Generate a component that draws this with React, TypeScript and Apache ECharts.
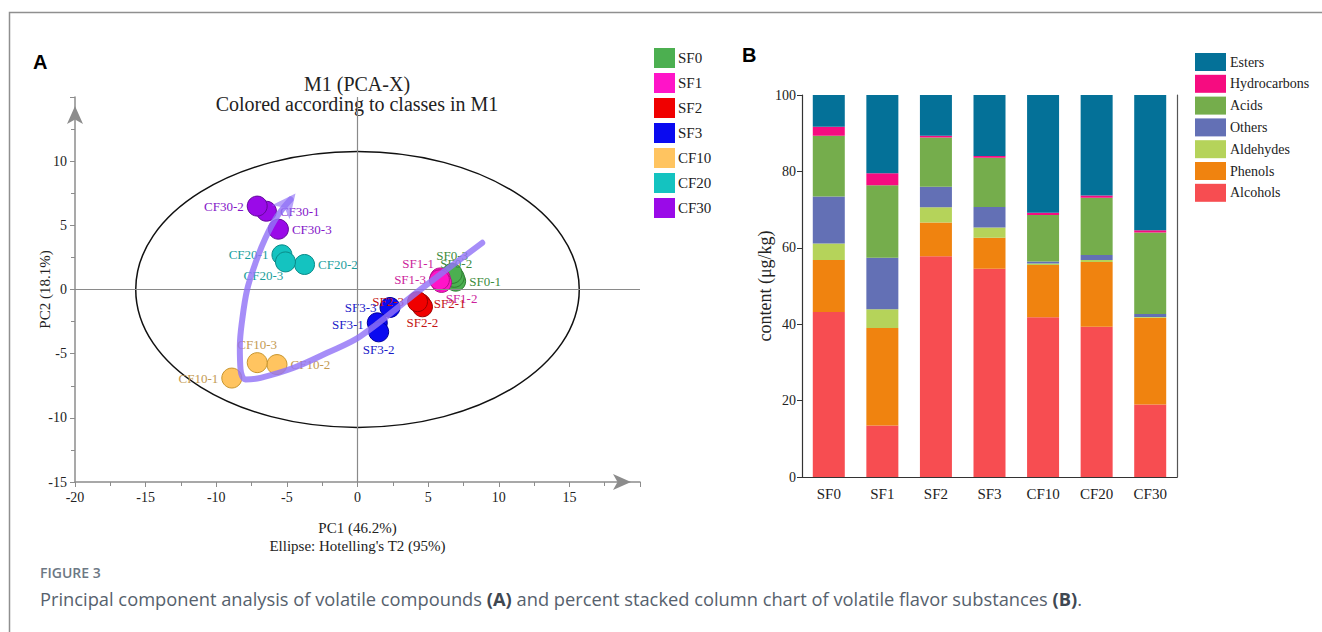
import React, { useEffect, useRef } from "react";
import * as echarts from "echarts";

// ---------- Panel A: PCA scores ----------
const groups = ["SF0", "SF1", "SF2", "SF3", "CF10", "CF20", "CF30"];
const groupColors = ["#4caf50", "#ff14c8", "#f00000", "#0a0af0", "#ffc460", "#14c3c0", "#9a0ae8"];
const groupBorders = ["#2f7d32", "#b0108a", "#9a0000", "#00009a", "#c8962e", "#0a8a88", "#62089a"];
const labelColors = ["#3d8b3d", "#cc1f9c", "#c41414", "#1a1ac8", "#c49a52", "#1a9e9c", "#8416c8"];

const sf0Names = ["SF0-1", "SF0-2", "SF0-3"];
const sf0Points = [[6.95, 0.65], [6.85, 0.95], [6.7, 1.25]];
const sf1Names = ["SF1-1", "SF1-2", "SF1-3"];
const sf1Points = [[5.85, 0.9], [5.95, 0.55], [5.8, 0.75]];
const sf2Names = ["SF2-1", "SF2-2", "SF2-3"];
const sf2Points = [[4.45, -1.1], [4.6, -1.35], [4.25, -0.95]];
const sf3Names = ["SF3-1", "SF3-2", "SF3-3"];
const sf3Points = [[1.4, -2.6], [1.5, -3.3], [2.3, -1.4]];
const cf10Names = ["CF10-1", "CF10-2", "CF10-3"];
const cf10Points = [[-8.9, -6.9], [-5.7, -5.85], [-7.1, -5.7]];
const cf20Names = ["CF20-1", "CF20-2", "CF20-3"];
const cf20Points = [[-5.35, 2.7], [-3.75, 1.95], [-5.1, 2.15]];
const cf30Names = ["CF30-1", "CF30-2", "CF30-3"];
const cf30Points = [[-6.45, 6.1], [-7.1, 6.5], [-5.6, 4.7]];

const groupNames = [sf0Names, sf1Names, sf2Names, sf3Names, cf10Names, cf20Names, cf30Names];
const groupPoints = [sf0Points, sf1Points, sf2Points, sf3Points, cf10Points, cf20Points, cf30Points];

// label placement: [position, offsetX, offsetY]
const labelPlacement: Record<string, [string, number, number]> = {
  "SF0-1": ["right", 0, 0], "SF0-2": ["top", 2, 6], "SF0-3": ["top", 0, 2],
  "SF1-1": ["top", -22, 6], "SF1-2": ["bottom", 20, -4], "SF1-3": ["left", 0, 0],
  "SF2-1": ["right", 0, 0], "SF2-2": ["bottom", 0, -4], "SF2-3": ["left", 0, 0],
  "SF3-1": ["left", 0, 2], "SF3-2": ["bottom", 0, -2], "SF3-3": ["left", 0, 0],
  "CF10-1": ["left", 0, 0], "CF10-2": ["right", 0, 0], "CF10-3": ["top", 0, 2],
  "CF20-1": ["left", 0, 0], "CF20-2": ["right", 0, 0], "CF20-3": ["bottom", -22, -6],
  "CF30-1": ["right", 0, 0], "CF30-2": ["left", 0, 0], "CF30-3": ["right", 0, 0],
};

// trend arrow (in PC1/PC2 units)
const trendPath = [
  [8.83, 3.64], [4.46, 0.0], [0.21, -3.64], [-2.14, -4.93], [-4.51, -6.1], [-6.86, -6.88],
  [-7.93, -7.01], [-8.28, -6.23], [-8.33, -4.42], [-8.16, -2.34], [-7.81, 0.0], [-7.22, 2.08],
  [-6.51, 4.03], [-5.68, 5.71], [-4.74, 7.01],
];
const trendHead = [-4.39, 7.49];

const ellipseCenter = [0, 0];
const ellipseRadii = [15.7, 10.75];

// ---------- Panel B: stacked columns ----------
const categories = ["SF0", "SF1", "SF2", "SF3", "CF10", "CF20", "CF30"];
const alcohols = [43.2, 13.5, 57.8, 54.5, 41.8, 39.3, 19.0];
const phenols = [13.6, 25.5, 8.8, 8.1, 13.7, 17.0, 22.7];
const aldehydes = [4.3, 4.9, 4.0, 2.7, 0.4, 0.5, 0.2];
const others = [12.3, 13.5, 5.4, 5.4, 0.5, 1.3, 0.8];
const acids = [15.9, 19.0, 12.9, 12.9, 12.2, 15.0, 21.3];
const hydrocarbons = [2.4, 3.1, 0.4, 0.4, 0.6, 0.6, 0.6];
const esters = [8.3, 20.5, 10.7, 16.0, 30.8, 26.3, 35.4];

const compoundNames = ["Alcohols", "Phenols", "Aldehydes", "Others", "Acids", "Hydrocarbons", "Esters"];
const compoundValues = [alcohols, phenols, aldehydes, others, acids, hydrocarbons, esters];
const compoundColors = ["#f74d51", "#f0830f", "#b5d35a", "#6370b5", "#75ad4c", "#f60c80", "#047198"];
const compoundLegendOrder = ["Esters", "Hydrocarbons", "Acids", "Others", "Aldehydes", "Phenols", "Alcohols"];

const SERIF = "'Liberation Serif', 'Times New Roman', serif";
const SANS = "'Liberation Sans', Arial, sans-serif";
const CAPTION = "'Open Sans', 'Noto Sans', sans-serif";
const AXIS_GRAY = "#8c8c8c";
const ARROW_COLOR = "rgba(146,116,246,0.82)";

export default function App() {
  const ref = useRef<HTMLDivElement>(null);

  useEffect(() => {
    const chart = echarts.init(ref.current as HTMLDivElement, null, { renderer: "svg" });

    const scatterSeries = groups.map((g, i) => ({
      type: "scatter",
      name: g,
      xAxisIndex: 0,
      yAxisIndex: 0,
      symbol: "circle",
      symbolSize: 20,
      z: 3,
      itemStyle: { color: groupColors[i], borderColor: groupBorders[i], borderWidth: 1, opacity: 1 },
      label: {
        show: true,
        formatter: "{b}",
        color: labelColors[i],
        fontSize: 13,
        fontFamily: SERIF,
        distance: 3,
      },
      emphasis: { disabled: true },
      data: groupPoints[i].map((p, j) => {
        const n = groupNames[i][j];
        const lp = labelPlacement[n];
        return { name: n, value: p, label: { position: lp[0], offset: [lp[1], lp[2]] } };
      }),
      ...(i === 0
        ? {
            markLine: {
              silent: true,
              symbol: "none",
              label: { show: false },
              lineStyle: { color: "#8a8a8a", width: 1.2, type: "solid" },
              data: [{ xAxis: 0 }, { yAxis: 0 }],
            },
          }
        : {}),
    }));

    const barSeries = compoundNames.map((n, i) => ({
      type: "bar",
      name: n,
      stack: "total",
      xAxisIndex: 1,
      yAxisIndex: 1,
      barWidth: 32,
      itemStyle: { color: compoundColors[i] },
      emphasis: { disabled: true },
      data: compoundValues[i],
    }));

    const staticGraphics: any[] = [
      {
        type: "rect",
        id: "frame",
        shape: { x: 9.5, y: 12.5, width: 1400, height: 700 },
        style: { fill: "none", stroke: "#8f8f8f", lineWidth: 1.5 },
        silent: true,
      },
      {
        type: "text", id: "letterA", x: 33, y: 62,
        style: { text: "A", font: `bold 20px ${SANS}`, fill: "#000", verticalAlign: "middle" },
      },
      {
        type: "text", id: "letterB", x: 742, y: 55,
        style: { text: "B", font: `bold 20px ${SANS}`, fill: "#000", verticalAlign: "middle" },
      },
      {
        type: "text", id: "title1", x: 357, y: 84,
        style: { text: "M1 (PCA-X)", font: `20px ${SERIF}`, fill: "#222", align: "center", verticalAlign: "middle" },
      },
      {
        type: "text", id: "title2", x: 357, y: 104,
        style: { text: "Colored according to classes in M1", font: `20px ${SERIF}`, fill: "#222", align: "center", verticalAlign: "middle" },
      },
      {
        type: "text", id: "figlabel", x: 40, y: 572,
        style: { text: "FIGURE 3", font: `600 14px ${CAPTION}`, fill: "#6d7884", verticalAlign: "middle" },
      },
      {
        type: "text", id: "caption", x: 40, y: 598,
        style: {
          text: "{n|Principal component analysis of volatile compounds }{b|(A)}{n| and percent stacked column chart of volatile flavor substances }{b|(B)}{n|.}",
          verticalAlign: "middle",
          rich: {
            n: { font: `18.3px ${CAPTION}`, fill: "#56616d" },
            b: { font: `bold 18.3px ${CAPTION}`, fill: "#3f4852" },
          },
        },
      },
    ];

    const option: any = {
      animation: false,
      backgroundColor: "#ffffff",
      textStyle: { fontFamily: SERIF },
      grid: [
        { left: 75, top: 97, width: 565, height: 385, containLabel: false },
        { left: 802, top: 95, width: 375, height: 382, containLabel: false },
      ],
      legend: [
        {
          data: groups,
          orient: "vertical",
          left: 649,
          top: 43,
          itemWidth: 21,
          itemHeight: 20,
          itemGap: 5,
          icon: "rect",
          selectedMode: false,
          itemStyle: { borderWidth: 0 },
          textStyle: { fontSize: 15, fontFamily: SERIF, color: "#222", padding: [0, 0, 0, -2] },
        },
        {
          data: compoundLegendOrder,
          orient: "vertical",
          left: 1190,
          top: 48,
          itemWidth: 31,
          itemHeight: 18,
          itemGap: 3.8,
          icon: "rect",
          selectedMode: false,
          itemStyle: { borderWidth: 0 },
          textStyle: { fontSize: 14, fontFamily: SERIF, color: "#222", padding: [0, 0, 0, -1] },
        },
      ],
      xAxis: [
        {
          type: "value",
          gridIndex: 0,
          min: -20,
          max: 20,
          interval: 5,
          name: "PC1 (46.2%)\nEllipse: Hotelling's T2 (95%)",
          nameLocation: "middle",
          nameGap: 37,
          nameMoveOverlap: false,
          nameTextStyle: { fontSize: 15, fontFamily: SERIF, color: "#222", lineHeight: 18 },
          axisLine: {
            show: true,
            onZero: false,
            symbol: ["none", "arrow"],
            symbolSize: [12, 18],
            symbolOffset: [0, -9],
            lineStyle: { color: AXIS_GRAY, width: 1.5 },
          },
          axisTick: { show: true, length: 5, lineStyle: { color: AXIS_GRAY } },
          minorTick: { show: true, splitNumber: 2, length: 4, lineStyle: { color: AXIS_GRAY } },
          axisLabel: {
            fontSize: 14,
            fontFamily: SERIF,
            color: "#222",
            margin: 8,
            formatter: (v: number) => (v === 20 ? "" : String(v)),
          },
          splitLine: { show: false },
          minorSplitLine: { show: false },
        },
        {
          type: "category",
          gridIndex: 1,
          data: categories,
          axisLine: { show: true, lineStyle: { color: "#333", width: 1.2 } },
          axisTick: { show: false },
          axisLabel: { fontSize: 15, fontFamily: SERIF, color: "#222", margin: 9 },
        },
      ],
      yAxis: [
        {
          type: "value",
          gridIndex: 0,
          min: -15,
          max: 15,
          interval: 5,
          name: "PC2 (18.1%)",
          nameLocation: "middle",
          nameGap: 23,
          nameMoveOverlap: false,
          nameTextStyle: { fontSize: 15, fontFamily: SERIF, color: "#222" },
          axisLine: {
            show: true,
            onZero: false,
            symbol: ["none", "arrow"],
            symbolSize: [12, 18],
            symbolOffset: [0, -9],
            lineStyle: { color: AXIS_GRAY, width: 1.5 },
          },
          axisTick: { show: true, length: 5, lineStyle: { color: AXIS_GRAY } },
          minorTick: { show: true, splitNumber: 2, length: 4, lineStyle: { color: AXIS_GRAY } },
          axisLabel: {
            fontSize: 14,
            fontFamily: SERIF,
            color: "#222",
            margin: 8,
            formatter: (v: number) => (v === 15 ? "" : String(v)),
          },
          splitLine: { show: false },
          minorSplitLine: { show: false },
        },
        {
          type: "value",
          gridIndex: 1,
          min: 0,
          max: 100,
          interval: 20,
          name: "content (μg/kg)",
          nameLocation: "middle",
          nameGap: 28,
          nameMoveOverlap: false,
          nameTextStyle: { fontSize: 18, fontFamily: SERIF, color: "#222" },
          axisLine: { show: true, lineStyle: { color: "#333", width: 1.2 } },
          axisTick: { show: true, length: 5, lineStyle: { color: "#333" } },
          axisLabel: { fontSize: 14, fontFamily: SERIF, color: "#222", margin: 6 },
          splitLine: { show: false },
        },
        {
          type: "value",
          gridIndex: 1,
          position: "right",
          min: 0,
          max: 100,
          interval: 20,
          axisLine: { show: true, lineStyle: { color: "#555", width: 1.2 } },
          axisTick: { show: false },
          axisLabel: { show: false },
          splitLine: { show: false },
        },
      ],
      series: [
        ...scatterSeries,
        {
          type: "line",
          name: "trend",
          xAxisIndex: 0,
          yAxisIndex: 0,
          data: trendPath,
          smooth: 0.35,
          showSymbol: false,
          symbol: "none",
          silent: true,
          z: 5,
          lineStyle: { color: ARROW_COLOR, width: 6, cap: "round" },
        },
        {
          type: "scatter",
          name: "trendHead",
          xAxisIndex: 0,
          yAxisIndex: 0,
          data: [trendHead],
          symbol: "arrow",
          symbolSize: [17, 24],
          symbolRotate: -38,
          silent: true,
          z: 5,
          itemStyle: { color: ARROW_COLOR },
        },
        ...barSeries,
      ],
      graphic: staticGraphics,
    };

    chart.setOption(option);

    const c = chart.convertToPixel({ xAxisIndex: 0, yAxisIndex: 0 }, ellipseCenter) as number[];
    const ex = chart.convertToPixel({ xAxisIndex: 0, yAxisIndex: 0 }, [ellipseCenter[0] + ellipseRadii[0], ellipseCenter[1]]) as number[];
    const ey = chart.convertToPixel({ xAxisIndex: 0, yAxisIndex: 0 }, [ellipseCenter[0], ellipseCenter[1] + ellipseRadii[1]]) as number[];

    chart.setOption({
      graphic: [
        ...staticGraphics,
        {
          type: "ellipse",
          id: "hotelling",
          z: 1,
          silent: true,
          shape: { cx: c[0], cy: c[1], rx: Math.abs(ex[0] - c[0]), ry: Math.abs(c[1] - ey[1]) },
          style: { fill: "none", stroke: "#111", lineWidth: 1.5 },
        },
      ],
    });

    return () => chart.dispose();
  }, []);

  return (
    <div style={{ position: "absolute", left: 0, top: 0, width: 1322, height: 632, background: "#fff" }}>
      <div ref={ref} style={{ width: 1322, height: 632 }} />
    </div>
  );
}
